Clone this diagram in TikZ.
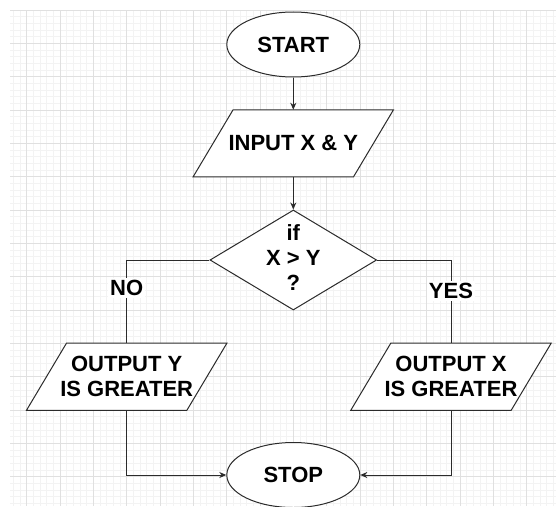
\documentclass[tikz,border=0pt]{standalone}
\usepackage{fontspec}
\setmainfont{Liberation Sans}
\usetikzlibrary{shapes.geometric,arrows.meta}
\definecolor{gridmajor}{HTML}{E0E0E0}
\definecolor{gridminor}{HTML}{F3F3F3}
\definecolor{ink}{HTML}{2B2B2B}
\pgfdeclarelayer{gridlayer}
\pgfdeclarelayer{shapelayer}
\pgfsetlayers{gridlayer,shapelayer,main}
\tikzset{
  x=1pt, y=-1pt,
  shapeline/.style={draw=ink, line width=1pt, fill=white},
  txt/.style={font=\fontsize{22}{25}\selectfont\bfseries, text=black, align=center},
  term/.style={shapeline, txt, ellipse, minimum width=133pt, minimum height=65pt, inner sep=0pt},
  io/.style={txt, rectangle, minimum width=160pt, minimum height=66.7pt, inner sep=0pt},
  decision/.style={shapeline, diamond, minimum width=166.7pt, minimum height=100pt, inner sep=0pt},
  conn/.style={draw=ink, line width=1pt},
  arr/.style={conn, -{Stealth[length=7pt,width=6pt]}},
  lbl/.style={txt, fill=white, inner sep=2pt}
}
\newcommand{\paraframe}[1]{%
  \begin{pgfonlayer}{shapelayer}
  \path[shapeline] ([xshift=20pt]#1.north west) -- ([xshift=20pt]#1.north east)
     -- ([xshift=-20pt]#1.south east) -- ([xshift=-20pt]#1.south west) -- cycle;
  \end{pgfonlayer}}
\begin{document}
\begin{tikzpicture}
\useasboundingbox (0,0) rectangle (556,506);
\begin{pgfonlayer}{gridlayer}
\fill[white] (0,0) rectangle (556,506);
\begin{scope}
\clip (10,10) rectangle (556,506);
\foreach \k in {-3,...,82} \draw[gridminor, line width=0.6pt] ({26.667+6.6667*\k},10) -- ({26.667+6.6667*\k},506);
\foreach \k in {-5,...,75} \draw[gridminor, line width=0.6pt] (10,{43.333+6.6667*\k}) -- (556,{43.333+6.6667*\k});
\foreach \k in {-1,...,16} \draw[gridmajor, line width=0.8pt] ({26.667+33.333*\k},10) -- ({26.667+33.333*\k},506);
\foreach \k in {-1,...,15} \draw[gridmajor, line width=0.8pt] (10,{43.333+33.333*\k}) -- (556,{43.333+33.333*\k});
\end{scope}
\end{pgfonlayer}
% nodes
\node[term] (start) at (293.3,44.5) {START};
\node[io] (input) at (293.3,143.3) {INPUT X \& Y};
\paraframe{input}
\node[decision] (dec) at (293.3,260) {};
\node[txt] (dectext) at (293.3,258) {if\\X > Y\\?};
\node[io] (outy) at (126.7,376.7) {OUTPUT Y\\IS GREATER};
\paraframe{outy}
\node[io] (outx) at (451,376.7) {OUTPUT X\\IS GREATER};
\paraframe{outx}
\node[term] (stop) at (293.3,475) {STOP};
% connectors
\draw[arr] (start) -- (input);
\draw[arr] (input) -- (dec);
\draw[conn] (dec.west) -| (outy.north);
\draw[conn] (dec.east) -| (outx.north);
\node[lbl] (no) at (126.7,288) {NO};
\node[lbl] (yes) at (451,291) {YES};
\draw[arr] (outy.south) |- (stop.west);
\draw[arr] (outx.south) |- (stop.east);
\end{tikzpicture}
\end{document}
